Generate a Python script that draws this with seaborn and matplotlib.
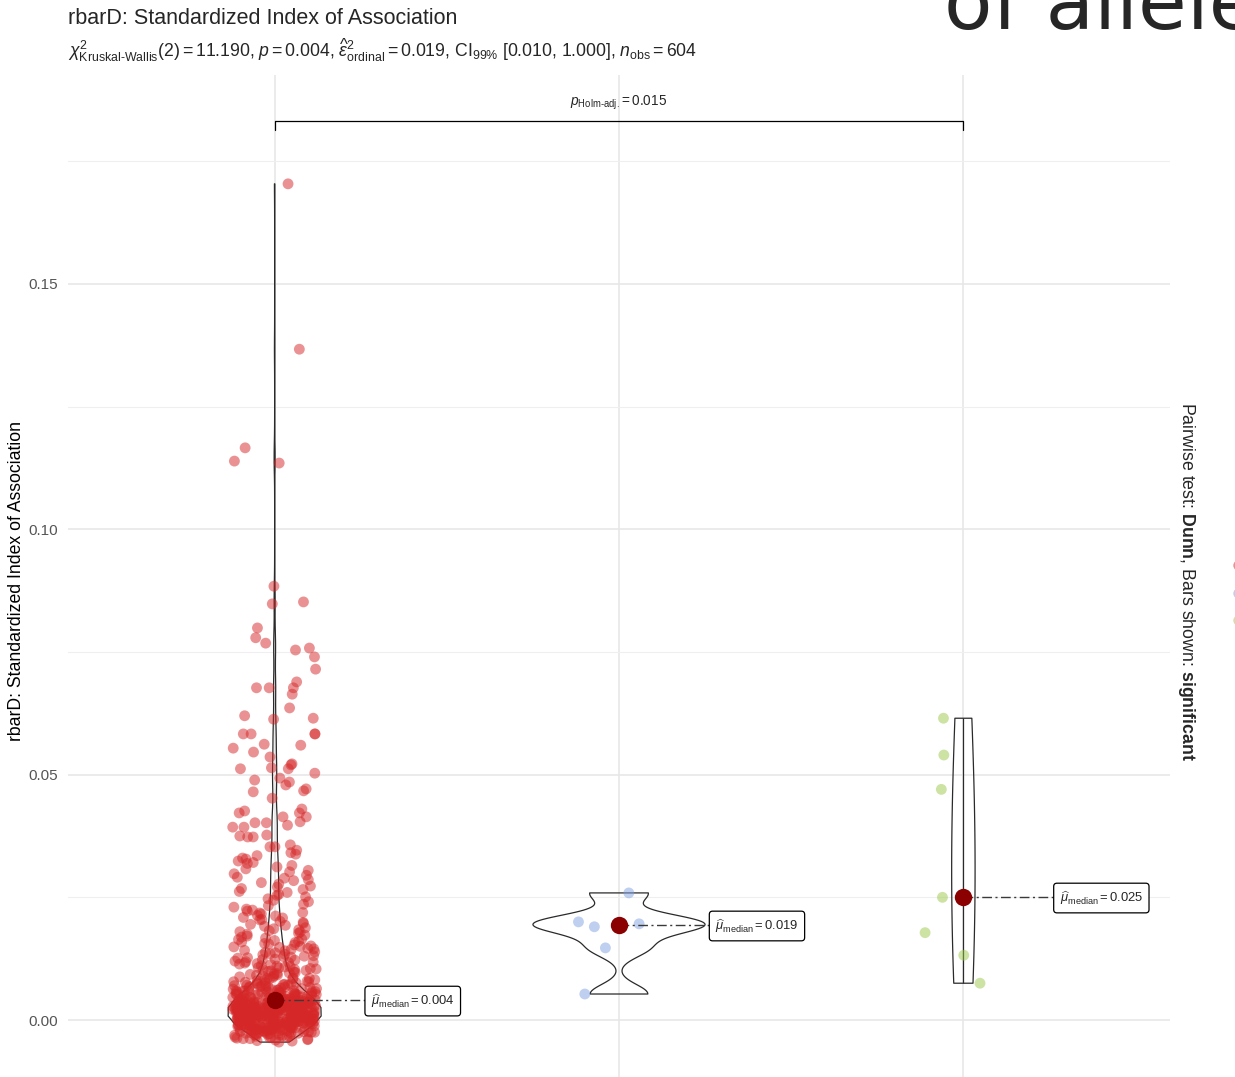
import numpy as np
import pandas as pd
import matplotlib
matplotlib.use("Agg")
import matplotlib.pyplot as plt
from matplotlib.lines import Line2D
from matplotlib.ticker import MultipleLocator
import seaborn as sns

# ---------------------------------------------------------------- data ----
SCALE = 1e-4  # rbarD values below are stored in units of 1e-4

groups = ["A", "B", "C"]
palette = ["#D62728", "#80A0E0", "#9CC84A"]

# group A: dense core below the median (-0.0045 .. 0.004)
g1_low = [
    -45, -43, -42, -41,
    -40, -39, -38, -38, -37, -36, -35, -35, -34, -33, -33, -32, -31, -31,
    -30, -29, -29, -28, -28, -27, -27, -27, -26, -26, -25, -25, -25, -24,
    -24, -24, -23, -23, -22, -22, -22, -21, -21, -21,
    -20, -20, -20, -19, -19, -19, -18, -18, -18, -17, -17, -17, -17, -16,
    -16, -16, -15, -15, -15, -14, -14, -14, -13, -13, -13, -13, -12, -12,
    -12, -11, -11, -11,
    -10, -10, -10, -10, -9, -9, -9, -9, -8, -8, -8, -8, -7, -7, -7, -7,
    -6, -6, -6, -6, -5, -5, -5, -5, -4, -4, -4, -4, -3, -3, -3, -3,
    -2, -2, -2, -2, -1, -1, -1, -1,
    0, 0, 0, 0, 1, 1, 1, 1, 2, 2, 2, 2, 2, 3, 3, 3, 3, 4, 4, 4, 4, 4,
    5, 5, 5, 5, 6, 6, 6, 6, 6, 7, 7, 7, 7, 8, 8, 8, 8, 8, 9, 9, 9, 9,
    10, 10, 10, 10, 11, 11, 11, 11, 11, 12, 12, 12, 12, 12, 13, 13, 13, 13,
    13, 14, 14, 14, 14, 14, 15, 15, 15, 15, 15, 16, 16, 16, 16, 16, 17, 17,
    17, 17, 17, 18, 18, 18, 18, 18, 19, 19, 19, 19,
    20, 20, 20, 20, 21, 21, 21, 21, 21, 22, 22, 22, 22, 22, 23, 23, 23, 23,
    24, 24, 24, 24, 24, 25, 25, 25, 25, 25, 26, 26, 26, 26, 27, 27, 27, 27,
    27, 28, 28, 28, 28, 28, 29, 29, 29, 29,
    30, 30, 30, 30, 31, 31, 31, 31, 31, 32, 32, 32, 32, 33, 33, 33, 33, 34,
    34, 34, 34, 34, 35, 35, 35, 35, 36, 36, 36, 36, 37, 37, 37, 37, 37, 38,
    38, 38, 38, 39, 39, 39, 39,
]
# group A: 0.004 .. 0.010
g1_mid = [
    40, 40, 40, 41, 41, 41, 41, 42, 42, 42, 43, 43, 43, 44, 44, 44, 44, 45,
    45, 45, 46, 46, 46, 47, 47, 47, 48, 48, 48, 49, 49, 49,
    50, 50, 51, 51, 51, 52, 52, 53, 53, 53, 54, 54, 55, 55, 55, 56, 56, 57,
    57, 57, 58, 58, 59, 59, 59,
    60, 60, 61, 61, 62, 63, 63, 64, 64, 65, 66, 66, 67, 67, 68, 68, 69, 69,
    70, 71, 71, 72, 73, 74, 74, 75, 76, 76, 77, 78, 78, 79,
    80, 81, 82, 83, 84, 85, 85, 86, 87, 88, 89,
    90, 91, 92, 93, 94, 95, 96, 97, 98, 99,
]
# group A: 0.010 .. 0.020
g1_upper = [
    100, 101, 102, 103, 104, 105, 106, 107, 108, 109,
    110, 111, 113, 114, 115, 116, 117, 118, 119,
    120, 122, 123, 124, 126, 127, 128, 129,
    130, 131, 133, 134, 135, 137, 138, 139,
    141, 142, 144, 145, 146, 148, 149,
    150, 151, 153, 155, 156, 158, 159,
    160, 162, 164, 165, 167, 169,
    171, 173, 175, 177, 179,
    180, 182, 184, 186, 188,
    191, 193, 195, 197, 199,
]
# group A: 0.020 .. 0.035
g1_shoulder = [
    201, 204, 205, 208, 209, 212, 213, 216, 218, 219, 222, 224, 226, 230,
    233, 236, 241, 244, 247,
    251, 254, 256, 260, 262, 266, 268, 271, 273, 277, 280, 284, 286, 289,
    291, 295, 298,
    302, 305, 308, 312, 315, 319, 321, 324, 328, 330, 335, 338, 341, 346,
]
# group A: sparse upper tail
g1_tail = [
    1704, 1367, 1166, 1135, 1139, 884, 852, 848, 799, 779, 768, 758, 740,
    754, 715, 689, 677, 677, 677, 664, 636, 613, 620, 615, 583, 583, 583,
    583, 562, 560, 554, 536, 546, 520, 512, 514, 522, 503, 512, 493, 485,
    479, 489, 471, 465, 467, 452, 426, 430, 422, 422, 414, 414, 404, 402,
    393, 402, 393, 397, 375, 373, 373, 377, 357, 353, 353,
]
g2_values = [53, 147, 190, 196, 200, 259]
g3_values = [75, 132, 178, 250, 470, 540, 615]

title = "rbarD: Standardized Index of Association"
y_label = "rbarD: Standardized Index of Association"
subtitle = (r"$\chi^{2}_{\text{Kruskal-Wallis}}(2)=11.190$, $\mathit{p}=0.004$, "
            r"$\widehat{\varepsilon}^{2}_{\mathrm{ordinal}}=0.019$, "
            r"CI$_{99\%}$ [0.010, 1.000], $\mathit{n}_{\mathrm{obs}}=604$")
pair_label = r"$\mathit{p}_{\text{Holm-adj.}}=0.015$"
caption = r"Pairwise test: $\mathbf{Dunn}$, Bars shown: $\mathbf{significant}$"
header_fragment = "of allele"
y_ticks = [0.00, 0.05, 0.10, 0.15]

g1 = g1_low + g1_mid + g1_upper + g1_shoulder + g1_tail
df = pd.DataFrame({
    "group": pd.Categorical(
        [groups[0]] * len(g1) + [groups[1]] * len(g2_values) + [groups[2]] * len(g3_values),
        categories=groups),
    "rbarD": np.array(g1 + g2_values + g3_values, dtype=float) * SCALE,
})

# ---------------------------------------------------------------- style ---
sns.set_style("white")
plt.rcParams.update({
    "font.family": ["Liberation Sans", "DejaVu Sans"],
    "mathtext.fontset": "custom",
    "mathtext.rm": "Liberation Sans",
    "mathtext.it": "Liberation Sans:italic",
    "mathtext.bf": "Liberation Sans:bold",
    "mathtext.sf": "Liberation Sans",
})
violin_widths = [0.27, 0.50, 0.068]
violin_bw_adjust = [1.0, 1.0, 2.2]
label_offset = 0.264
line_col = "#2a2a2a"


def nrd0_factor(kde):
    """Silverman's rule of thumb (R's bw.nrd0) as a gaussian_kde factor."""
    x = np.asarray(kde.dataset).ravel()
    sd = x.std(ddof=1)
    q75, q25 = np.percentile(x, [75, 25])
    spread = min(sd, (q75 - q25) / 1.34) if q75 > q25 else sd
    return 0.9 * spread * len(x) ** -0.2 / sd


fig = plt.figure(figsize=(12.35, 10.77), dpi=100)
ax = fig.add_axes([68 / 1235, 1 - 1100 / 1077, 1102 / 1235, 1025 / 1077])

# jittered raw observations
np.random.seed(3)
sns.stripplot(data=df, x="group", y="rbarD", hue="group", order=groups,
              hue_order=groups, palette=palette, jitter=0.122, size=7.8,
              alpha=0.5, linewidth=0, legend=False, ax=ax)

# violins (trimmed to the data range)
for g, w, adj in zip(groups, violin_widths, violin_bw_adjust):
    sns.violinplot(data=df[df["group"] == g], x="group", y="rbarD", order=groups,
                   width=w, density_norm="width", cut=0, bw_method=nrd0_factor,
                   bw_adjust=adj, inner=None, fill=False, color=line_col,
                   linewidth=0.9, ax=ax)

# centre line through the narrow third violin, spanning its data range
g3_data = df.loc[df["group"] == groups[2], "rbarD"]
ax.vlines(2, g3_data.min(), g3_data.max(), color=line_col, lw=0.9, zorder=2)

# medians
sns.pointplot(data=df, x="group", y="rbarD", order=groups, estimator="median",
              errorbar=None, linestyle="none", color="#8B0000", markersize=12.5,
              markeredgewidth=0, zorder=5, ax=ax)

medians = df.groupby("group", observed=True)["rbarD"].median()
for i, g in enumerate(groups):
    m = medians[g]
    ax.plot([i, i + label_offset], [m, m], color="#3a3a3a", lw=1.0,
            ls=(0, (7, 2.5, 1.5, 2.5)), zorder=4)
    ax.annotate(rf"$\widehat{{\mu}}_{{\mathrm{{median}}}}={m:.3f}$",
                xy=(i + label_offset, m), xytext=(3.8, -0.5), textcoords="offset points",
                ha="left", va="center", fontsize=9.4, zorder=6,
                bbox=dict(boxstyle="round,pad=0.45,rounding_size=0.25",
                          fc="white", ec="black", lw=0.9))

# significance bracket between the first and third group
y_top = df["rbarD"].max()
y_b = y_top * 1.075
tick = 0.0018
ax.plot([0, 0, 2, 2], [y_b - tick, y_b, y_b, y_b - tick], color="black", lw=0.9)
ax.text(1, y_b + 0.0037, pair_label, ha="center", va="center", fontsize=9.8)

# axes cosmetics
ax.set_xlim(-0.6, 2.6)
ax.set_ylim(-0.0163, 0.19258)
ax.set_yticks(y_ticks)
ax.set_yticklabels([f"{t:.2f}" for t in y_ticks])
ax.yaxis.set_minor_locator(MultipleLocator(0.025))
ax.set_axisbelow(True)
ax.grid(which="major", axis="both", color="#E6E6E6", lw=1.1)
ax.grid(which="minor", axis="y", color="#EFEFEF", lw=0.8)
for s in ax.spines.values():
    s.set_visible(False)
ax.tick_params(axis="both", which="both", length=0, labelsize=11, colors="#555555", pad=7)
ax.tick_params(axis="x", labelbottom=False)
ax.set_xlabel("")
ax.set_ylabel(y_label, fontsize=12.7, color="black")
ax.yaxis.set_label_coords(-0.039, 0.506)

# titles and side text
fig.text(68 / 1235, 1 - 23.5 / 1077, title, fontsize=15.5, ha="left", va="baseline")
fig.text(68 / 1235, 1 - 57 / 1077, subtitle, fontsize=12.7, ha="left", va="baseline")
fig.text(1187 / 1235, 1 - 581 / 1077, caption, rotation=270, fontsize=12.8,
         ha="center", va="center")
fig.text(944 / 1235, 1 - 29 / 1077, header_fragment, fontsize=57,
         family="DejaVu Sans", ha="left", va="baseline")

handles = [Line2D([], [], marker="o", ls="", color=c, alpha=0.5, markersize=7.5,
                  markeredgewidth=0) for c in palette]
fig.legend(handles, groups, loc="center left", bbox_to_anchor=(0.9963, 1 - 594 / 1077),
           frameon=False, borderpad=0, borderaxespad=0, handlelength=1.0,
           handletextpad=0.5, labelspacing=0.9, fontsize=11)

fig.savefig("out.png", dpi=100, facecolor="white")
